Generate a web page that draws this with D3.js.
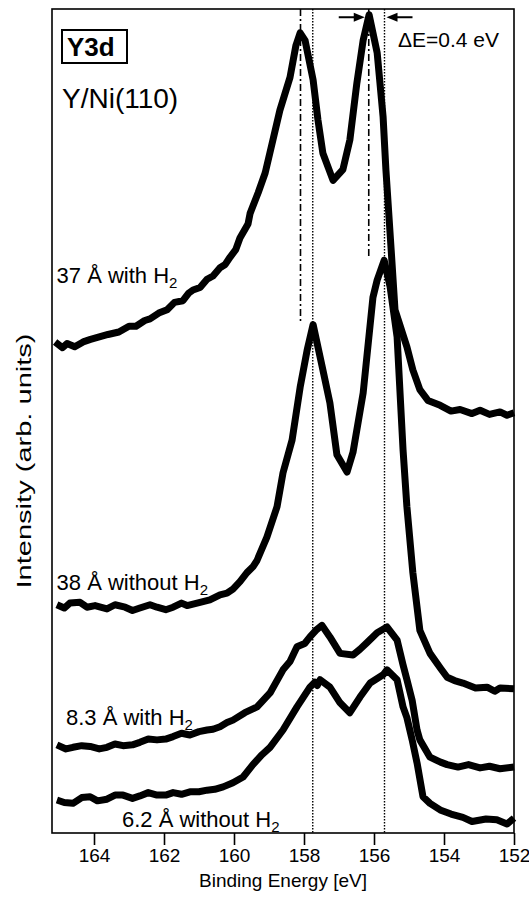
<!DOCTYPE html>
<html lang="en">
<head>
    <meta charset="UTF-8">
    <title>Y3d spectra</title>
    <script src="https://d3js.org/d3.v7.min.js"></script>
    <style>
        body { margin: 0; background: white; }
        text { font-family: "Liberation Sans", Arial, sans-serif; fill: black; }
    </style>
</head>
<body>
    <script>

        // binding energy [eV], intensity (arb. units, curves already offset)
        var with37 = [[165.11,59.6],[164.9,58.9],[164.77,59.4],[164.55,59.0],[164.31,59.6],[164.1,59.9],[163.85,60.2],[163.6,60.5],
            [163.29,60.8],[163.0,61.5],[162.8,61.5],[162.55,62.2],[162.4,62.4],[162.15,63.1],[161.91,63.5],[161.7,64.4],[161.46,64.6],
            [161.3,65.5],[161.17,65.9],[160.97,66.2],[160.77,67.2],[160.6,67.6],[160.4,68.6],[160.25,69.0],[160.11,69.9],[159.95,70.8],
            [159.83,72.2],[159.6,73.9],[159.54,75.2],[159.31,77.7],[159.11,80.1],[158.91,83.7],[158.69,87.7],[158.4,91.7],[158.23,95.6],
            [158.11,97.1],[157.97,96.2],[157.74,91.4],[157.6,86.5],[157.46,82.5],[157.17,79.2],[156.89,80.5],[156.69,84.1],[156.49,91.0],
            [156.31,96.2],[156.14,99.3],[155.91,94.7],[155.74,86.9],[155.66,80.5],[155.51,70.8],[155.4,63.5],[155.31,62.3],[155.06,59.0],
            [154.89,56.2],[154.69,53.8],[154.46,52.5],[154.11,51.9],[153.8,51.2],[153.54,51.4],[153.2,50.9],[152.97,51.3],[152.7,50.8],
            [152.4,51.1],[152.2,50.7],[152.0,51.0]];

        var without38 = [[165.06,27.7],[164.85,27.3],[164.69,27.9],[164.4,28.0],[164.2,27.4],[163.97,27.6],[163.63,27.2],[163.4,27.7],
            [163.11,27.4],[162.9,27.0],[162.69,27.3],[162.4,27.7],[162.2,27.4],[161.95,27.1],[161.74,27.4],[161.5,27.9],[161.34,27.6],
            [160.97,28.0],[160.69,28.3],[160.4,28.9],[160.2,29.1],[160.03,29.6],[159.83,30.5],[159.63,31.6],[159.46,32.3],[159.34,33.1],
            [159.06,35.9],[158.77,39.6],[158.6,43.7],[158.34,47.7],[158.11,54.1],[157.91,58.6],[157.74,61.7],[157.46,56.2],[157.26,52.2],
            [157.06,45.9],[156.77,43.8],[156.6,46.2],[156.31,53.4],[156.03,65.0],[155.91,67.1],[155.71,69.5],[155.54,66.3],[155.34,60.2],
            [155.17,46.5],[155.06,39.6],[154.89,31.6],[154.69,24.6],[154.4,21.8],[154.1,20.0],[153.91,18.9],[153.7,18.5],[153.46,18.2],
            [153.1,17.6],[152.77,17.7],[152.55,17.2],[152.4,17.6],[152.0,17.5]];

        var with83 = [[165.06,10.7],[164.8,10.2],[164.6,10.4],[164.35,10.6],[164.11,10.5],[163.85,10.2],[163.63,10.4],[163.4,10.8],
            [163.17,10.6],[162.9,10.7],[162.69,11.0],[162.45,11.4],[162.2,11.3],[161.95,11.4],[161.74,11.7],[161.5,12.1],[161.26,11.9],
            [161.0,12.3],[160.77,12.5],[160.6,12.6],[160.4,12.9],[160.2,13.4],[160.03,13.7],[159.69,14.6],[159.34,15.3],[158.97,17.0],
            [158.6,19.8],[158.4,20.8],[158.2,22.6],[157.98,23.0],[157.83,23.8],[157.66,24.6],[157.49,25.2],[157.26,23.8],[156.97,21.8],
            [156.6,21.6],[156.4,22.3],[156.2,23.1],[155.91,24.3],[155.63,25.0],[155.34,23.4],[155.17,20.4],[155.06,18.6],[154.91,16.1],
            [154.77,12.5],[154.69,11.3],[154.4,9.2],[154.1,8.6],[153.91,8.3],[153.6,8.0],[153.3,8.3],[152.97,7.9],[152.7,8.1],
            [152.4,7.8],[152.0,8.0]];

        var without62 = [[165.06,4.0],[164.85,3.7],[164.6,3.6],[164.35,4.3],[164.11,4.4],[163.9,3.9],[163.63,4.1],[163.4,4.6],
            [163.17,4.6],[162.9,4.2],[162.69,4.5],[162.45,4.9],[162.2,4.6],[161.95,4.6],[161.74,4.9],[161.5,4.7],[161.26,5.0],
            [161.0,5.0],[160.77,5.2],[160.55,5.3],[160.31,5.6],[160.03,6.1],[159.74,6.8],[159.46,8.3],[159.2,9.5],[158.97,10.4],
            [158.6,12.5],[158.2,15.3],[157.83,17.7],[157.69,18.3],[157.62,17.9],[157.54,18.6],[157.26,17.7],[156.97,15.8],[156.69,14.6],
            [156.4,16.5],[156.11,18.2],[155.74,19.2],[155.63,19.8],[155.34,18.6],[155.17,15.3],[155.06,14.0],[154.91,11.3],[154.77,8.5],
            [154.6,4.4],[154.4,3.6],[154.11,2.8],[153.8,2.3],[153.46,1.9],[153.2,1.4],[152.8,1.7],[152.49,1.6],[152.2,1.1],[152.0,1.8]];

        var spectra = [with37, without38, with83, without62];

        var labels = [
            { name: "37 Å with H", e: 165.07, i: 66.8 },
            { name: "38 Å without H", e: 165.07, i: 29.5 },
            { name: "8.3 Å with H", e: 164.8, i: 13.1 },
            { name: "6.2 Å without H", e: 163.2, i: 0.7 }
        ];

        var ticks = [164, 162, 160, 158, 156, 154, 152];

        // reference lines: dash-dot for 37 Å with H2, dotted for 38 Å without H2
        var dashDot = [[158.1, 61.9], [156.15, 69.8]];
        var dotted = [157.75, 155.7];

        var width = 529, height = 902;
        var mLeft = 52, mRight = 514, mTop = 9, mBottom = 833;

        var x = d3.scaleLinear()
            .domain([165.2, 152])
            .range([mLeft, mRight]);

        var y = d3.scaleLinear()
            .domain([0, 100])
            .range([mBottom, mTop]);

        var svg = d3.select("body").append("svg")
            .attr("width", width)
            .attr("height", height);

        // vertical reference lines
        svg.selectAll(".dotted")
            .data(dotted)
            .enter()
                .append("line")
                .attr("x1", function (d) { return x(d); })
                .attr("x2", function (d) { return x(d); })
                .attr("y1", y(100))
                .attr("y2", y(0))
                .attr("stroke", "black")
                .attr("stroke-width", 1.4)
                .attr("stroke-dasharray", "1.5,1.5");

        svg.selectAll(".dashdot")
            .data(dashDot)
            .enter()
                .append("line")
                .attr("x1", function (d) { return x(d[0]); })
                .attr("x2", function (d) { return x(d[0]); })
                .attr("y1", y(100))
                .attr("y2", function (d) { return y(d[1]); })
                .attr("stroke", "black")
                .attr("stroke-width", 1.6)
                .attr("stroke-dasharray", "7,3,2,3");

        var line = d3.line()
            .x(function (d) { return x(d[0]); })
            .y(function (d) { return y(d[1]); });

        svg.selectAll(".spectrum")
            .data(spectra)
            .enter()
                .append("path")
                .attr("d", line)
                .attr("fill", "none")
                .attr("stroke", "black")
                .attr("stroke-width", 7)
                .attr("stroke-linejoin", "round")
                .attr("stroke-linecap", "butt");

        // frame
        svg.append("rect")
            .attr("x", mLeft)
            .attr("y", mTop)
            .attr("width", mRight - mLeft)
            .attr("height", mBottom - mTop)
            .attr("fill", "none")
            .attr("stroke", "black")
            .attr("stroke-width", 1.6);

        // x axis below the frame
        var xAxis = d3.axisBottom(x)
            .tickValues(ticks)
            .tickSize(12)
            .tickPadding(4)
            .tickFormat(d3.format("d"));

        var ax = svg.append("g")
            .attr("transform", "translate(0," + mBottom + ")")
            .call(xAxis);
        ax.select(".domain").remove();
        ax.selectAll("line").attr("stroke-width", 1.6);
        ax.selectAll("text")
            .attr("font-size", "19px")
            .attr("font-family", "'Liberation Sans', Arial, sans-serif");

        svg.append("text")
            .attr("x", 283)
            .attr("y", 887)
            .attr("text-anchor", "middle")
            .attr("font-size", "19px")
            .text("Binding Energy [eV]");

        svg.append("text")
            .attr("transform", "translate(31,461) rotate(-90)")
            .attr("text-anchor", "middle")
            .attr("font-size", "21px")
            .attr("textLength", 255)
            .attr("lengthAdjust", "spacingAndGlyphs")
            .text("Intensity (arb. units)");

        // curve labels with H2 subscript
        var lab = svg.selectAll(".lab")
            .data(labels)
            .enter()
                .append("text")
                .attr("x", function (d) { return x(d.e); })
                .attr("y", function (d) { return y(d.i); })
                .attr("font-size", "22px");
        lab.append("tspan").text(function (d) { return d.name; });
        lab.append("tspan")
            .attr("dy", 5)
            .attr("font-size", "15px")
            .text("2");

        // Y3d box and sample name
        svg.append("rect")
            .attr("x", 62)
            .attr("y", 30)
            .attr("width", 65)
            .attr("height", 33)
            .attr("fill", "none")
            .attr("stroke", "black")
            .attr("stroke-width", 2);

        svg.append("text")
            .attr("x", 67)
            .attr("y", 56)
            .attr("font-size", "26px")
            .attr("font-weight", "bold")
            .text("Y3d");

        svg.append("text")
            .attr("x", 62)
            .attr("y", 108)
            .attr("font-size", "28px")
            .text("Y/Ni(110)");

        svg.append("text")
            .attr("x", 398)
            .attr("y", 47)
            .attr("font-size", "21px")
            .text("ΔE=0.4 eV");

        // arrows marking the shift
        var arrows = [
            { tip: x(dashDot[1][0]) - 4, dir: 1 },
            { tip: x(dotted[1]) + 2, dir: -1 }
        ];
        var ay = y(99);

        svg.selectAll(".arrow")
            .data(arrows)
            .enter()
                .append("line")
                .attr("x1", function (d) { return d.tip - d.dir * 26; })
                .attr("x2", function (d) { return d.tip - d.dir * 8; })
                .attr("y1", ay)
                .attr("y2", ay)
                .attr("stroke", "black")
                .attr("stroke-width", 2);

        svg.selectAll(".head")
            .data(arrows)
            .enter()
                .append("path")
                .attr("d", function (d) {
                    return "M" + d.tip + "," + ay +
                        "L" + (d.tip - d.dir * 11) + "," + (ay - 4.5) +
                        "L" + (d.tip - d.dir * 11) + "," + (ay + 4.5) + "Z";
                })
                .attr("fill", "black");

    </script>
</body>
</html>
